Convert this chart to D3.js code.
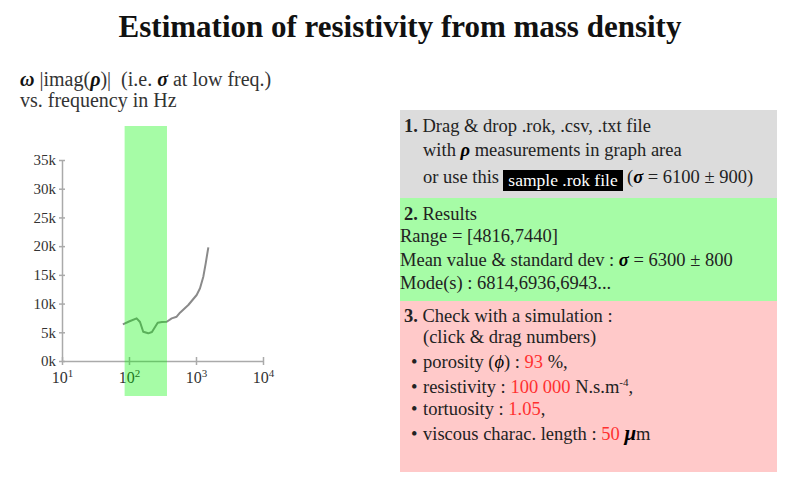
<!DOCTYPE html>
<html>
<head>
<meta charset="utf-8">
<script src="https://cdn.jsdelivr.net/npm/d3@7"></script>
<style>
  html, body { margin: 0; padding: 0; background: #fff; }
  svg { display: block; font-family: "Liberation Serif", "DejaVu Serif", serif; }
</style>
</head>
<body>
<svg id="chart" width="800" height="486"></svg>
<script>
// ---- data ----
const frequencies = [81, 100, 130, 146, 163, 194, 220, 268, 311, 366, 434, 515, 577, 768, 1023, 1148, 1286, 1396, 1528];
const sigmaValues = [6390, 6880, 7430, 6790, 5100, 4820, 5050, 6670, 6790, 6840, 7430, 7710, 8410, 9750, 11490, 12660, 14680, 17010, 19800];
const bandRange = [86, 369];
const yTickValues = [0, 5000, 10000, 15000, 20000, 25000, 30000, 35000];
const xTickExponents = [1, 2, 3, 4];

const svg = d3.select("#chart");

// ---- title ----
svg.append("text")
  .attr("x", 400).attr("y", 37)
  .attr("text-anchor", "middle")
  .attr("font-size", 31).attr("font-weight", "bold").attr("fill", "#111")
  .text("Estimation of resistivity from mass density");

// ---- chart subtitle ----
const sub = svg.append("text").attr("x", 20).attr("y", 86).attr("font-size", 20).attr("fill", "#333");
sub.append("tspan").attr("font-weight", "bold").attr("font-style", "italic").attr("fill", "#111").text("ω");
sub.append("tspan").text(" |imag(");
sub.append("tspan").attr("font-weight", "bold").attr("font-style", "italic").attr("fill", "#111").text("ρ");
sub.append("tspan").text(")|\u00a0 (i.e. ");
sub.append("tspan").attr("font-weight", "bold").attr("font-style", "italic").attr("fill", "#111").text("σ");
sub.append("tspan").text(" at low freq.)");
svg.append("text").attr("x", 20).attr("y", 107).attr("font-size", 20).attr("fill", "#333")
  .text("vs. frequency in Hz");

// ---- scales ----
const x = d3.scaleLog().domain([10, 10000]).range([62, 263]);
const y = d3.scaleLinear().domain([0, 35000]).range([361, 160]);

// ---- line ----
const pts = frequencies.map((f, i) => [f, sigmaValues[i]]);
svg.append("path")
  .datum(pts)
  .attr("fill", "none")
  .attr("stroke", "#8a8a8a")
  .attr("stroke-width", 2)
  .attr("stroke-linejoin", "round")
  .attr("d", d3.line().x(d => x(d[0])).y(d => y(d[1])));

// ---- axes ----
const axisColor = "#aaa";
const yAxis = svg.append("g").attr("transform", "translate(62,0)")
  .call(d3.axisLeft(y).tickValues(yTickValues).tickSizeInner(0).tickSizeOuter(0).tickPadding(6)
    .tickFormat(d => (d / 1000) + "k"));
yAxis.select(".domain").attr("stroke", axisColor).attr("stroke-width", 1.5);
yAxis.selectAll(".tick line").attr("x1", -3).attr("x2", 3).attr("stroke", axisColor).attr("stroke-width", 1.5);
yAxis.selectAll(".tick text").attr("font-family", "Liberation Serif, serif").attr("font-size", 15).attr("fill", "#333");

const xAxis = svg.append("g").attr("transform", "translate(0,361)")
  .call(d3.axisBottom(x).tickValues(xTickExponents.map(e => Math.pow(10, e))).tickSizeInner(0).tickSizeOuter(0).tickFormat(""));
xAxis.select(".domain").attr("stroke", axisColor).attr("stroke-width", 1.5);
xAxis.selectAll(".tick line").attr("y1", -4).attr("y2", 4).attr("stroke", axisColor).attr("stroke-width", 1.5);
xAxis.selectAll(".tick").each(function(d, i) {
  const t = d3.select(this).append("text")
    .attr("y", 22).attr("text-anchor", "middle")
    .attr("font-family", "Liberation Serif, serif").attr("font-size", 16).attr("fill", "#333");
  t.append("tspan").text("10");
  t.append("tspan").attr("dy", -6).attr("font-size", 11).text(xTickExponents[i]);
});

// ---- highlighted band (drawn over the line) ----
svg.append("rect")
  .attr("x", x(bandRange[0])).attr("width", x(bandRange[1]) - x(bandRange[0]))
  .attr("y", 126).attr("height", 270)
  .attr("fill", "rgb(0,245,0)").attr("fill-opacity", 0.35);

// ---- right panels ----
const panelX = 400, panelW = 377;
svg.append("rect").attr("x", panelX).attr("y", 110).attr("width", panelW).attr("height", 88).attr("fill", "#dcdcdc");
svg.append("rect").attr("x", panelX).attr("y", 198).attr("width", panelW).attr("height", 103).attr("fill", "#a6fca6");
svg.append("rect").attr("x", panelX).attr("y", 301).attr("width", panelW).attr("height", 171).attr("fill", "#ffc9c9");

const fs = 18.5;
const txtColor = "#222";
const red = "#ff3030";
function line(xp, yp) {
  return svg.append("text").attr("x", xp).attr("y", yp).attr("font-size", fs).attr("fill", txtColor);
}
function greek(t, s) { t.append("tspan").attr("font-weight", "bold").attr("font-style", "italic").attr("fill", "#000").text(s); }

let t = line(404, 132);
t.append("tspan").attr("font-weight", "bold").text("1.");
t.append("tspan").text(" Drag & drop .rok, .csv, .txt file");

t = line(423, 156);
t.append("tspan").text("with ");
greek(t, "ρ");
t.append("tspan").text(" measurements in graph area");

t = line(423, 183);
t.append("tspan").text("or use this ");
svg.append("rect").attr("x", 503).attr("y", 170).attr("width", 120).attr("height", 21).attr("fill", "#000");
svg.append("text").attr("x", 563).attr("y", 186).attr("text-anchor", "middle").attr("font-size", 17.5).attr("fill", "#fff")
  .text("sample .rok file");
t = line(627, 183);
t.append("tspan").text("(");
greek(t, "σ");
t.append("tspan").text(" = 6100 ± 900)");

t = line(404, 220);
t.append("tspan").attr("font-weight", "bold").text("2.");
t.append("tspan").text(" Results");
line(400, 242).text("Range = [4816,7440]");
t = line(400, 266);
t.append("tspan").text("Mean value & standard dev : ");
greek(t, "σ");
t.append("tspan").text(" = 6300 ± 800");
line(400, 289).text("Mode(s) : 6814,6936,6943...");

t = line(404, 322);
t.append("tspan").attr("font-weight", "bold").text("3.");
t.append("tspan").text(" Check with a simulation :");
line(423, 343).text("(click & drag numbers)");

const bullets = [
  { y: 368, parts: [["porosity (", null], ["ϕ", "phi"], [") : ", null], ["93", "red"], [" %,", null]] },
  { y: 393, parts: [["resistivity : ", null], ["100 000", "red"], [" N.s.m", null], ["-4", "sup"], [",", "after"]] },
  { y: 415, parts: [["tortuosity : ", null], ["1.05", "red"], [",", null]] },
  { y: 440, parts: [["viscous charac. length : ", null], ["50", "red"], [" ", null], ["μ", "mu"], ["m", null]] }
];
bullets.forEach(b => {
  svg.append("text").attr("x", 411).attr("y", b.y).attr("font-size", fs).attr("fill", txtColor).text("•");
  const tt = line(423, b.y);
  b.parts.forEach(([s, kind]) => {
    const sp = tt.append("tspan").text(s);
    if (kind === "red") sp.attr("fill", red);
    if (kind === "phi") sp.attr("font-style", "italic").attr("fill", "#000");
    if (kind === "mu") sp.attr("font-style", "italic").attr("font-weight", "bold").attr("font-size", 21).attr("fill", "#000");
    if (kind === "sup") sp.attr("font-size", 11).attr("dy", -7);
    if (kind === "after") sp.attr("dy", 7);
  });
});
</script>
</body>
</html>
